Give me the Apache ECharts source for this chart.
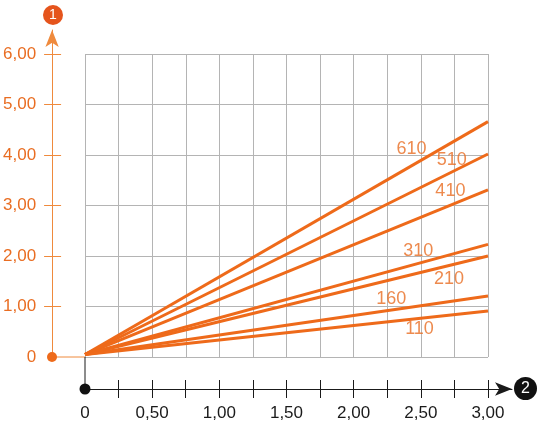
<!DOCTYPE html>
<html>
<head>
<meta charset="utf-8">
<script src="https://cdn.jsdelivr.net/npm/echarts@6/dist/echarts.min.js"></script>
<style>
  html, body { margin: 0; padding: 0; background: #fff; }
  #chart { width: 540px; height: 424px; }
</style>
</head>
<body>
<div id="chart"></div>
<script>
// curves: value at x = 3,00 (all start near 0)
var curveNames = ['610', '510', '410', '310', '210', '160', '110'];
var startY = 0.05;
var endY = [4.66, 4.02, 3.31, 2.23, 2.00, 1.21, 0.91];
var endX = 3.0;

// where the curve labels sit
var labelX = [2.43, 2.73, 2.72, 2.48, 2.71, 2.28, 2.49];
var labelY = [4.12, 3.90, 3.29, 2.09, 1.54, 1.14, 0.55];

// axis ticks / labels
var xTicks = [0.25, 0.5, 0.75, 1, 1.25, 1.5, 1.75, 2, 2.25, 2.5, 2.75, 3];
var xLabels = [0, 0.5, 1, 1.5, 2, 2.5, 3];
var yTicks = [1, 2, 3, 4, 5, 6];
var yLabels = [0, 1, 2, 3, 4, 5, 6];

var orange = '#ee6a1a';
var axisOrange = '#ef8a3d';
var textOrange = '#e96d22';
var font = '"Liberation Sans", Arial, sans-serif';

function fmt(v) {
  if (v === 0) return '0';
  return v.toFixed(2).replace('.', ',');
}

var myChart = echarts.init(document.getElementById('chart'));

var series = [];
for (var i = 0; i < curveNames.length; i++) {
  series.push({
    name: curveNames[i],
    type: 'line',
    xAxisIndex: 0,
    yAxisIndex: 0,
    data: [[0, startY], [endX, endY[i]]],
    symbol: 'none',
    lineStyle: { color: orange, width: 3 },
    silent: true,
    z: 3
  });
}

var labelData = [];
for (var j = 0; j < curveNames.length; j++) {
  labelData.push({ name: curveNames[j], value: [labelX[j], labelY[j]] });
}
series.push({
  type: 'scatter',
  xAxisIndex: 0,
  yAxisIndex: 0,
  data: labelData,
  symbolSize: 0,
  silent: true,
  z: 4,
  label: {
    show: true,
    position: 'inside',
    formatter: '{b}',
    color: textOrange,
    fontSize: 18,
    fontFamily: font
  }
});

var option = {
  backgroundColor: '#fff',
  animation: false,
  grid: [
    { left: 85, top: 54, right: 52, bottom: 67 },  // plot area
    { left: 85, top: 380, right: 28, bottom: 35 }, // x axis strip
    { left: 52, top: 30, right: 478, bottom: 67 }  // y axis strip
  ],
  xAxis: [
    {
      gridIndex: 0, type: 'value', min: 0, max: 3, interval: 0.25,
      axisLine: { show: false }, axisTick: { show: false }, axisLabel: { show: false },
      splitLine: { show: true, lineStyle: { color: '#b4b4b4', width: 1 } }
    },
    {
      gridIndex: 1, type: 'value', min: 0, max: 3.179, position: 'bottom',
      axisLine: {
        show: true, symbol: ['none', 'arrow'], symbolSize: [10, 17],
        lineStyle: { color: '#1a1a1a', width: 1 }
      },
      axisTick: { show: true, length: 9, customValues: xTicks, lineStyle: { color: '#1a1a1a' } },
      axisLabel: {
        show: true, customValues: xLabels, margin: 16, formatter: fmt,
        color: '#1a1a1a', fontSize: 17, fontFamily: font
      },
      splitLine: { show: false }
    },
    {
      gridIndex: 1, type: 'value', min: 0, max: 3.179, position: 'bottom',
      axisLine: { show: false },
      axisTick: { show: true, inside: true, length: 9, customValues: xTicks, lineStyle: { color: '#1a1a1a' } },
      axisLabel: { show: false },
      splitLine: { show: false }
    },
    {
      gridIndex: 2, type: 'value', show: false
    }
  ],
  yAxis: [
    {
      gridIndex: 0, type: 'value', min: 0, max: 6, interval: 1,
      axisLine: { show: false }, axisTick: { show: false }, axisLabel: { show: false },
      splitLine: { show: true, lineStyle: { color: '#b4b4b4', width: 1 } }
    },
    {
      gridIndex: 1, type: 'value', show: false
    },
    {
      gridIndex: 2, type: 'value', min: 0, max: 6.475, position: 'left',
      axisLine: {
        show: true, symbol: ['none', 'arrow'], symbolSize: [10, 17],
        lineStyle: { color: axisOrange, width: 1 }
      },
      axisTick: { show: true, length: 8, customValues: yTicks, lineStyle: { color: axisOrange } },
      axisLabel: {
        show: true, customValues: yLabels, margin: 16, formatter: fmt,
        color: textOrange, fontSize: 17, fontFamily: font
      },
      splitLine: { show: false }
    },
    {
      gridIndex: 2, type: 'value', min: 0, max: 6.475, position: 'left',
      axisLine: { show: false },
      axisTick: { show: true, inside: true, length: 9, customValues: yTicks, lineStyle: { color: axisOrange } },
      axisLabel: { show: false },
      splitLine: { show: false }
    }
  ],
  graphic: [
    // links between the detached axes and the plot corner
    { type: 'line', shape: { x1: 52, y1: 357, x2: 85, y2: 357 }, style: { stroke: axisOrange, lineWidth: 1 }, z: 1 },
    { type: 'line', shape: { x1: 85, y1: 357, x2: 85, y2: 389 }, style: { stroke: '#1a1a1a', lineWidth: 1 }, z: 1 },
    { type: 'circle', shape: { cx: 52, cy: 357, r: 5 }, style: { fill: orange }, z: 5 },
    { type: 'circle', shape: { cx: 85, cy: 389, r: 5.5 }, style: { fill: '#111' }, z: 5 },
    // axis badges
    { type: 'circle', shape: { cx: 53, cy: 15, r: 10 }, style: { fill: '#e5541c' }, z: 5 },
    { type: 'text', x: 53, y: 15, z: 6, style: { text: '1', fill: '#fff', fontSize: 14, fontFamily: font, align: 'center', verticalAlign: 'middle' } },
    { type: 'circle', shape: { cx: 525.5, cy: 388.5, r: 11.5 }, style: { fill: '#111' }, z: 5 },
    { type: 'text', x: 525.5, y: 388.5, z: 6, style: { text: '2', fill: '#fff', fontSize: 16, fontFamily: font, align: 'center', verticalAlign: 'middle' } }
  ],
  series: series
};

myChart.setOption(option);
window.addEventListener('resize', function () {
  myChart.resize();
});
</script>
</body>
</html>
